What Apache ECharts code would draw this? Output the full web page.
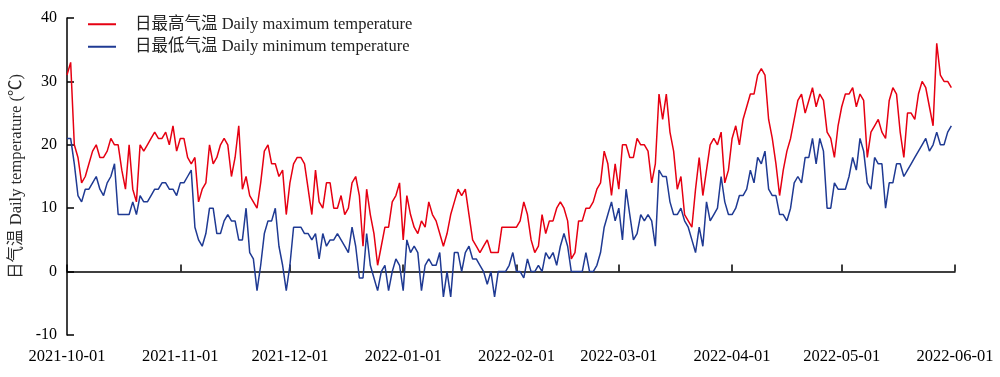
<!DOCTYPE html>
<html>
<head>
<meta charset="utf-8">
<script src="https://cdn.jsdelivr.net/npm/echarts@6/dist/echarts.min.js"></script>
<style>html,body{margin:0;padding:0;background:#fff;}#c{width:1000px;height:377px;}</style>
</head>
<body>
<div id="c"></div>
<script>
const startDate = '2021-10-01';
const endDate = '2022-06-01';
const seriesNames = ['日最高气温 Daily maximum temperature', '日最低气温 Daily minimum temperature'];
const yTicks = { min: -10, max: 40, interval: 10 };

const maxOct = [31,33,20,18,14,15,17,19,20,18,18,19,21,20,20,16,13,20,13,11,20,19,20,21,22,21,21,22,20,23,19];
const maxNov = [21,21,18,17,18,11,13,14,20,17,18,20,21,20,15,18,23,13,15,12,11,10,14,19,20,17,17,15,16,9];
const maxDec = [14,17,18,18,17,13,9,16,11,10,14,14,10,10,12,9,10,14,15,12,4,13,9,6,1,4,7,7,11,12,14];
const maxJan = [5,12,9,7,6,8,7,11,9,8,6,4,6,9,11,13,12,13,9,5,4,3,4,5,3,3,3,7,7,7,7];
const maxFeb = [7,8,11,9,5,3,4,9,6,8,8,10,11,10,8,2,3,8,8,10,10,11,13,14,19,17,12,17];
const maxMar = [13,20,20,18,18,21,20,20,19,14,17,28,24,28,22,19,13,15,9,8,7,13,18,12,16,20,21,20,22,14,16];
const maxApr = [21,23,20,24,26,28,28,31,32,31,24,21,17,12,16,19,21,24,27,28,25,27,29,26,28,27,22,21,18,23];
const maxMay = [26,28,28,29,26,28,27,18,22,23,24,22,21,27,29,28,22,18,25,25,24,28,30,29,26,23,36,31,30,30,29];

const minOct = [21,21,17,12,11,13,13,14,15,13,12,14,15,17,9,9,9,9,11,9,12,11,11,12,13,13,14,14,13,13,12];
const minNov = [14,14,15,16,7,5,4,6,10,10,6,6,8,9,8,8,5,5,10,3,2,-3,1,6,8,8,10,4,1,-3];
const minDec = [1,7,7,7,6,6,5,6,2,6,4,5,5,6,5,4,3,7,4,-1,-1,6,1,-1,-3,0,1,-3,0,2,1];
const minJan = [-3,5,3,4,3,-3,1,2,1,1,3,-4,0,-4,3,3,0,3,4,2,2,1,0,-2,0,-4,0,0,0,1,3];
const minFeb = [0,0,-1,2,0,0,1,0,3,2,3,1,4,6,4,0,0,0,0,3,0,0,1,3,7,9,11,8];
const minMar = [10,5,13,9,5,6,9,8,9,8,4,16,15,15,11,9,9,10,8,7,5,3,7,4,11,8,9,10,15,11,9];
const minApr = [9,10,12,12,13,16,14,18,17,19,13,12,12,9,9,8,10,14,15,14,18,18,21,17,21,19,10,10,14,13];
const minMay = [13,13,15,18,16,21,19,14,13,18,17,17,10,14,14,17,17,15,16,17,18,19,20,21,19,20,22,20,20,22,23];

const maxTemp = [].concat(maxOct, maxNov, maxDec, maxJan, maxFeb, maxMar, maxApr, maxMay);
const minTemp = [].concat(minOct, minNov, minDec, minJan, minFeb, minMar, minApr, minMay);

// daily category list (dates), built from start to end
const dates = [];
(function () {
  const d = new Date(startDate + 'T00:00:00Z');
  const e = new Date(endDate + 'T00:00:00Z');
  while (d <= e) {
    dates.push(d.toISOString().slice(0, 10));
    d.setUTCDate(d.getUTCDate() + 1);
  }
})();

const FONT = "'Liberation Serif', 'Times New Roman', 'Noto Sans CJK SC', serif";
const monthStart = (i, v) => v.slice(8) === '01';
const RED = '#e60012';
const BLUE = '#1f3a93';

const chart = echarts.init(document.getElementById('c'), null, { renderer: 'canvas' });
chart.setOption({
  animation: false,
  backgroundColor: '#fff',
  grid: { left: 67, right: 45, top: 18, bottom: 42, containLabel: false },
  legend: {
    orient: 'vertical', left: 83, top: 11, icon: 'rect', itemWidth: 28, itemHeight: 2, itemGap: 6,
    textStyle: { fontFamily: FONT, fontSize: 16.5, color: '#222', padding: [0, 0, 0, 14] },
    data: [
      { name: seriesNames[0], itemStyle: { color: RED } },
      { name: seriesNames[1], itemStyle: { color: BLUE } }
    ]
  },
  xAxis: [
    {
      type: 'category', data: dates, boundaryGap: false,
      axisLine: { onZero: true, lineStyle: { color: '#000', width: 1.5 } },
      axisTick: { inside: true, length: 7, interval: monthStart, lineStyle: { color: '#000', width: 1.5 } },
      axisLabel: { show: false },
      splitLine: { show: false }
    },
    {
      type: 'category', data: dates, boundaryGap: false, position: 'bottom',
      axisLine: { show: false, onZero: false },
      axisTick: { show: false },
      axisLabel: { interval: monthStart, margin: 13, fontFamily: FONT, fontSize: 16.5, color: '#000' },
      splitLine: { show: false }
    }
  ],
  yAxis: {
    type: 'value', min: yTicks.min, max: yTicks.max, interval: yTicks.interval,
    name: '日气温 Daily temperature (℃)', nameLocation: 'middle', nameGap: 30, nameRotate: 90,
    nameTextStyle: { fontFamily: FONT, fontSize: 16.5, color: '#2a2a2a' },
    axisLine: { show: true, onZero: false, lineStyle: { color: '#000', width: 1.5 } },
    axisTick: { show: true, inside: true, length: 7, lineStyle: { color: '#000', width: 1.5 } },
    axisLabel: { margin: 10, fontFamily: FONT, fontSize: 16, color: '#000' },
    splitLine: { show: false }
  },
  series: [
    { name: seriesNames[0], type: 'line', data: maxTemp, symbol: 'none', xAxisIndex: 0,
      lineStyle: { color: RED, width: 1.5 }, itemStyle: { color: RED } },
    { name: seriesNames[1], type: 'line', data: minTemp, symbol: 'none', xAxisIndex: 0,
      lineStyle: { color: BLUE, width: 1.5 }, itemStyle: { color: BLUE } }
  ]
});
</script>
</body>
</html>
